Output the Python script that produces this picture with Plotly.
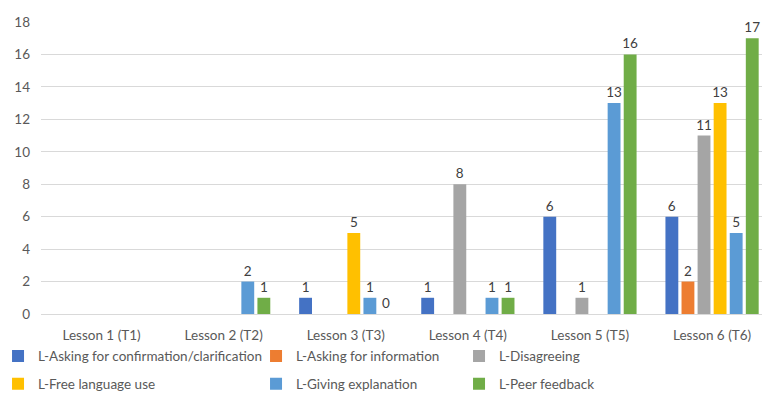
import plotly.graph_objects as go

# categories and series (None = no bar / no label)
lessons = ["Lesson 1 (T1)", "Lesson 2 (T2)", "Lesson 3 (T3)",
           "Lesson 4 (T4)", "Lesson 5 (T5)", "Lesson 6 (T6)"]

confirmation = [None, None, 1, 1, 6, 6]
information = [None, None, None, None, None, 2]
disagreeing = [None, None, None, 8, 1, 11]
free_language = [None, None, 5, None, None, 13]
explanation = [None, 2, 1, 1, 13, 5]
peer_feedback = [None, 1, 0, 1, 16, 17]

series_names = ["L-Asking for confirmation/clarification", "L-Asking for information",
                "L-Disagreeing", "L-Free language use", "L-Giving explanation",
                "L-Peer feedback"]
series_values = [confirmation, information, disagreeing, free_language,
                 explanation, peer_feedback]
colors = ["#4472C4", "#ED7D31", "#A5A5A5", "#FFC000", "#5B9BD5", "#70AD47"]

FONT = "Lato"

fig = go.Figure()

# two legend rows, three columns each; column widths set per trace
legend_ids = ["legend", "legend", "legend", "legend2", "legend2", "legend2"]
col_widths = [213, 158, 150, 213, 158, 150]

for i, (name, vals, col) in enumerate(zip(series_names, series_values, colors)):
    fig.add_trace(go.Bar(
        x=lessons, y=vals, name=name,
        marker=dict(color=col, line=dict(width=0)),
        text=vals, texttemplate="%{y}", textposition="outside",
        constraintext="none",
        textfont=dict(family=FONT, size=13.5, color="#404040"),
        cliponaxis=False,
        legend=legend_ids[i],
        legendwidth=col_widths[i],
    ))

legend_style = dict(
    orientation="h", xanchor="left", yanchor="middle",
    font=dict(family=FONT, size=13.5, color="#595959"),
    itemwidth=30, bgcolor="rgba(0,0,0,0)",
)

fig.update_layout(
    width=762, height=419,
    margin=dict(l=41, r=0, t=22, b=105, autoexpand=False),
    paper_bgcolor="white", plot_bgcolor="white",
    barmode="group", bargap=0.21, bargroupgap=0.2,
    font=dict(family=FONT, size=13.5, color="#595959"),
    xaxis=dict(range=[-0.496, 5.409], showgrid=False, zeroline=False,
               showline=False, ticks="", automargin=False,
               ticklabelstandoff=11,
               tickfont=dict(size=13.5, color="#595959")),
    yaxis=dict(range=[0, 18], dtick=2, showgrid=True, gridcolor="#D9D9D9",
               gridwidth=1, zeroline=True, zerolinecolor="#D9D9D9",
               zerolinewidth=1, showline=False, ticks="", automargin=False,
               ticklabelstandoff=10,
               tickfont=dict(size=13.5, color="#595959")),
    legend=dict(x=-0.0596, y=-0.145, **legend_style),
    legend2=dict(x=-0.0596, y=-0.24, **legend_style),
)

# drop the default body margin so the figure fills the window exactly
fig.write_html("out.html",
               config={"displayModeBar": False},
               post_script="document.body.style.margin='0';"
                           "document.body.style.overflow='hidden';")
